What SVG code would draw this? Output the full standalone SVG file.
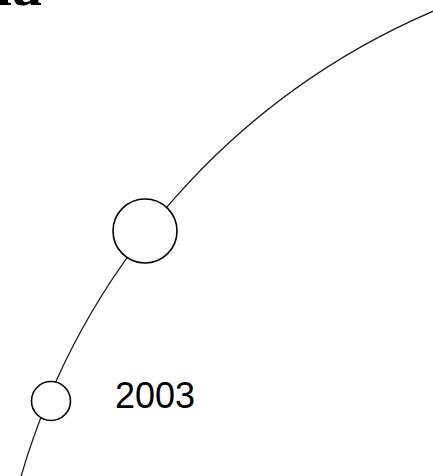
<svg xmlns="http://www.w3.org/2000/svg" width="433" height="476" viewBox="0 0 433 476">
<style>
.line{fill:none;stroke:#1a1a1a;stroke-width:1.3}
.node{fill:#fff;stroke:#000;stroke-width:1.6}
.title{font-family:"Liberation Serif",serif;font-weight:bold;font-size:60px;fill:#000}
.label{font-family:"Liberation Sans",Arial,sans-serif;font-size:36px;fill:#000}
</style>
<rect width="433" height="476" fill="#fff"/>
<text class="title" x="42" y="5" text-anchor="end">ia</text>
<g id="connectors">
<path class="line" d="M20,480 A729,729 0 0 1 436,10"/>
</g>
<g id="node-large">
<circle class="node" cx="145" cy="231" r="32"/>
</g>
<g id="node-2003">
<circle class="node" cx="51" cy="401" r="19.5"/>
<text class="label" x="115" y="408">2003</text>
</g>
</svg>
